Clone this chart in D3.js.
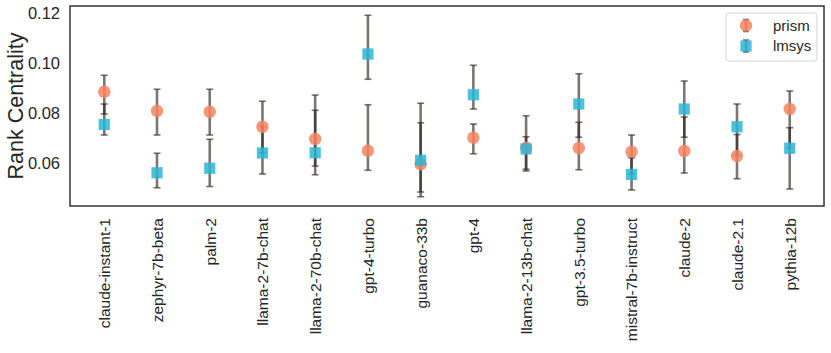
<!DOCTYPE html>
<html>
<head>
<meta charset="utf-8">
<script src="https://cdn.jsdelivr.net/npm/d3@7"></script>
<style>
  body { margin: 0; background: #fff; }
  text { font-family: "Liberation Sans", Arial, sans-serif; fill: #262626; }
</style>
</head>
<body>
<div id="chart"></div>
<script>
// models on the x axis
var models = ["claude-instant-1", "zephyr-7b-beta", "palm-2", "llama-2-7b-chat",
  "llama-2-70b-chat", "gpt-4-turbo", "guanaco-33b", "gpt-4", "llama-2-13b-chat",
  "gpt-3.5-turbo", "mistral-7b-instruct", "claude-2", "claude-2.1", "pythia-12b"];

// prism: point estimate and interval
var prismValue = [0.0884, 0.0807, 0.0804, 0.0744, 0.0695, 0.0648, 0.0594, 0.0700, 0.0660, 0.0659, 0.0644, 0.0647, 0.0627, 0.0815];
var prismLow   = [0.0795, 0.0711, 0.0711, 0.0640, 0.0552, 0.0570, 0.0464, 0.0636, 0.0574, 0.0572, 0.0555, 0.0559, 0.0536, 0.0660];
var prismHigh  = [0.0950, 0.0894, 0.0894, 0.0846, 0.0871, 0.0832, 0.0838, 0.0755, 0.0788, 0.0762, 0.0711, 0.0783, 0.0713, 0.0887];

// lmsys: point estimate and interval
var lmsysValue = [0.0753, 0.0560, 0.0578, 0.0639, 0.0640, 0.1035, 0.0610, 0.0872, 0.0655, 0.0835, 0.0553, 0.0815, 0.0744, 0.0658];
var lmsysLow   = [0.0711, 0.0500, 0.0505, 0.0555, 0.0587, 0.0934, 0.0483, 0.0815, 0.0567, 0.0702, 0.0491, 0.0702, 0.0630, 0.0495];
var lmsysHigh  = [0.0835, 0.0638, 0.0694, 0.0745, 0.0810, 0.1190, 0.0760, 0.0990, 0.0704, 0.0956, 0.0620, 0.0927, 0.0835, 0.0740];

var yTicks = [0.06, 0.08, 0.10, 0.12];

var width = 831, height = 353;
var margin = { top: 6, right: 7, bottom: 147, left: 70 };
var innerW = width - margin.left - margin.right;
var innerH = height - margin.top - margin.bottom;

var svg = d3.select("#chart").append("svg")
    .attr("width", width)
    .attr("height", height),
  g = svg.append("g")
    .attr("transform", "translate(" + margin.left + "," + margin.top + ")");

var x = d3.scalePoint()
  .domain(models)
  .range([0, innerW])
  .padding(0.65);

var y = d3.scaleLinear()
  .domain([0.0427, 0.1227])
  .range([innerH, 0]);

// build rows per series
var series = [
  { name: "prism", value: prismValue, low: prismLow, high: prismHigh, color: "#f7845f", shape: "circle" },
  { name: "lmsys", value: lmsysValue, low: lmsysLow, high: lmsysHigh, color: "#2cb6d6", shape: "square" }
];

var barColor = "#2b221d", barAlpha = 0.62, capHalf = 3.5;

// error bars first
series.forEach(function(s) {
  var rows = models.map(function(m, i) { return { m: m, v: s.value[i], lo: s.low[i], hi: s.high[i] }; });
  var eb = g.append("g").attr("class", "err-" + s.name)
    .selectAll("g").data(rows).enter().append("g")
    .attr("transform", function(d) { return "translate(" + x(d.m) + ",0)"; })
    .attr("stroke", barColor)
    .attr("stroke-opacity", barAlpha);
  eb.append("line")
    .attr("y1", function(d) { return y(d.lo); })
    .attr("y2", function(d) { return y(d.hi); })
    .attr("stroke-width", 2.6);
  eb.append("line")
    .attr("x1", -capHalf).attr("x2", capHalf)
    .attr("y1", function(d) { return y(d.lo); })
    .attr("y2", function(d) { return y(d.lo); })
    .attr("stroke-width", 1.6);
  eb.append("line")
    .attr("x1", -capHalf).attr("x2", capHalf)
    .attr("y1", function(d) { return y(d.hi); })
    .attr("y2", function(d) { return y(d.hi); })
    .attr("stroke-width", 1.6);
});

// markers on top
function drawMarker(sel, s, cx, cy) {
  if (s.shape === "circle") {
    sel.append("circle").attr("cx", cx).attr("cy", cy).attr("r", 6.2)
      .attr("fill", s.color).attr("fill-opacity", 0.85);
  } else {
    sel.append("rect").attr("x", cx - 5.6).attr("y", cy - 5.6)
      .attr("width", 11.2).attr("height", 11.2)
      .attr("fill", s.color).attr("fill-opacity", 0.85);
  }
}

series.forEach(function(s) {
  var mg = g.append("g").attr("class", "pts-" + s.name);
  models.forEach(function(m, i) {
    drawMarker(mg, s, x(m), y(s.value[i]));
  });
});

// frame
g.append("rect")
  .attr("width", innerW).attr("height", innerH)
  .attr("fill", "none").attr("stroke", "#262626").attr("stroke-width", 1.4);

// y axis
var yAxis = g.append("g")
  .call(d3.axisLeft(y).tickValues(yTicks).tickSize(0).tickPadding(10).tickFormat(d3.format(".2f")));
yAxis.select(".domain").remove();
yAxis.selectAll("text").style("font-size", "16.5px").style("font-family", "Liberation Sans, Arial, sans-serif").attr("fill", "#262626");

// x axis
var xAxis = g.append("g")
  .attr("transform", "translate(0," + innerH + ")")
  .call(d3.axisBottom(x).tickSize(0).tickPadding(0));
xAxis.select(".domain").remove();
xAxis.selectAll("text")
  .style("font-size", "15.5px")
  .style("font-family", "Liberation Sans, Arial, sans-serif")
  .attr("fill", "#262626")
  .attr("text-anchor", "end")
  .attr("dy", "0.35em")
  .attr("transform", "translate(0,12) rotate(-90)")
  .attr("x", 0).attr("y", 0);

// y label
svg.append("text")
  .attr("transform", "translate(23," + (margin.top + innerH / 2) + ") rotate(-90)")
  .attr("text-anchor", "middle")
  .style("font-size", "21.5px")
  .text("Rank Centrality");

// legend
var lg = svg.append("g").attr("transform", "translate(726,13)");
lg.append("rect")
  .attr("width", 91).attr("height", 48).attr("rx", 3)
  .attr("fill", "#fff").attr("stroke", "#d4d4d4").attr("stroke-width", 1);
series.forEach(function(s, i) {
  var cy = 12.5 + i * 20.5, cx = 20;
  var e = lg.append("g").attr("stroke", barColor).attr("stroke-opacity", barAlpha);
  e.append("line").attr("x1", cx).attr("x2", cx).attr("y1", cy - 6).attr("y2", cy + 6).attr("stroke-width", 2.6);
  e.append("line").attr("x1", cx - 3).attr("x2", cx + 3).attr("y1", cy - 6).attr("y2", cy - 6).attr("stroke-width", 1.6);
  e.append("line").attr("x1", cx - 3).attr("x2", cx + 3).attr("y1", cy + 6).attr("y2", cy + 6).attr("stroke-width", 1.6);
  drawMarker(lg, s, cx, cy);
  lg.append("text").attr("x", 47).attr("y", cy).attr("dy", "0.35em")
    .style("font-size", "15px").text(s.name);
});
</script>
</body>
</html>
